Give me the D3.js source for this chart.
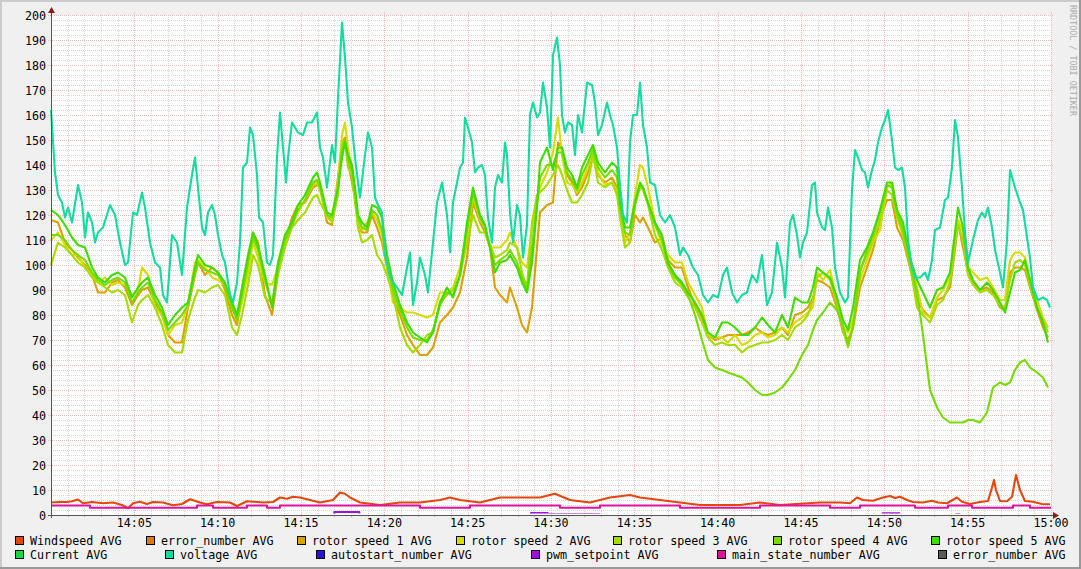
<!DOCTYPE html>
<html><head><meta charset="utf-8">
<script src="https://cdn.jsdelivr.net/npm/d3@7"></script>
<style>body{margin:0;background:#f0f0f0}svg{display:block}text{font-family:"DejaVu Sans Mono",monospace}</style>
</head><body><svg id="c" width="1081" height="569"></svg>
<script>
// ---------- DATA (minutes after 14:00) ----------
const rotorTime = [0,0.42,0.84,1.26,1.62,2.04,2.46,2.82,3.24,3.66,
4.02,4.44,4.86,5.22,5.46,5.82,6.24,6.66,7.02,7.44,
7.86,8.22,8.64,8.82,9.24,9.66,10.02,10.44,10.86,11.16,
11.46,11.82,12.12,12.42,12.84,13.26,13.62,14.04,14.46,14.82,
15.24,15.72,15.96,16.14,16.56,16.86,17.22,17.46,17.64,17.82,
18.06,18.24,18.42,18.66,18.96,19.26,19.56,19.86,20.16,20.52,
20.94,21.36,21.72,22.14,22.56,22.92,23.34,23.76,24.12,24.54,
24.96,25.32,25.74,26.04,26.34,26.64,26.94,27.36,27.54,27.96,
28.26,28.56,28.86,29.16,29.34,29.76,30.12,30.42,30.66,30.96,
31.26,31.56,31.86,32.22,32.52,32.82,33.24,33.66,33.96,34.14,
34.44,34.74,35.04,35.34,35.52,35.82,36.24,36.66,37.02,37.44,
37.86,38.22,38.64,39.06,39.42,39.84,40.26,40.62,41.04,41.46,
41.82,42.24,42.66,43.02,43.44,43.86,44.22,44.64,45.06,45.42,
45.72,45.96,46.32,46.74,47.16,47.52,47.82,48.12,48.54,48.96,
49.32,49.74,50.16,50.46,50.76,51.12,51.54,51.96,52.32,52.74,
53.16,53.52,53.94,54.24,54.42,54.72,55.02,55.32,55.74,56.16,
56.52,56.94,57.24,57.54,57.84,58.14,58.44,58.74,59.16,59.52,
59.82];
const rotor1 = [118,117,109,106,103,100,96,89,89,93,
94,91,84,88,90,91,85,80,72,69,
69,83,96,101,96,99,97,90,80,76,
87,99,113,109,88,80,97,109,119,124,
125,131,132,131,117,116,135,149,151,141,
133,127,117,113,113,120,115,109,99,87,
80,72,68,64,64,67,77,80,83,89,
103,125,117,113,107,91,88,85,91,83,
76,73,83,107,121,124,125,149,147,136,
133,128,131,137,144,136,133,135,131,120,
112,109,120,117,119,115,109,111,102,99,
99,91,84,79,72,70,71,72,72,72,
73,75,73,72,73,75,72,80,81,83,
87,94,93,91,83,73,70,75,91,99,
106,118,126,126,115,110,99,86,82,79,
86,87,91,106,117,107,97,93,90,91,
89,83,82,97,99,99,98,91,82,75,71];
const rotor2 = [110,113,108,104,104,99,96,93,95,92,
93,92,88,90,99,96,83,80,72,76,
77,84,101,102,99,95,94,92,83,78,
85,97,109,103,93,92,99,108,116,121,
126,132,133,130,119,118,133,152,157,147,
137,129,118,114,117,121,118,112,100,85,
83,81,81,80,79,80,89,89,91,99,
113,127,118,115,107,107,107,110,113,107,
101,99,115,125,131,137,145,159,144,133,
132,129,133,139,147,137,132,133,130,124,
109,113,128,140,139,131,117,108,104,101,
101,93,88,83,72,71,71,69,72,68,
69,72,73,71,72,75,73,77,79,81,
83,97,94,98,86,75,73,78,94,102,
109,114,131,133,121,115,103,91,81,79,
87,90,95,110,118,113,99,97,94,95,
91,86,86,102,105,105,103,94,86,79,75];
const rotor3 = [100,109,107,104,101,99,95,93,91,89,
90,88,77,84,86,88,83,76,68,65,
65,78,87,90,89,91,92,88,75,72,
80,92,104,100,87,85,96,107,115,118,
121,127,128,125,120,117,128,148,150,139,
136,125,115,109,110,112,104,101,96,88,
75,68,65,68,72,73,85,88,90,96,
109,120,113,113,108,103,104,106,109,107,
97,91,117,128,129,132,136,140,136,130,
125,125,128,133,144,133,131,133,128,119,
107,109,124,131,130,124,112,106,99,93,
91,87,83,77,71,68,69,68,68,65,
67,68,69,69,70,72,70,75,77,80,
86,95,97,94,85,74,67,76,98,104,
110,118,130,128,119,112,100,83,80,77,
84,86,93,108,116,110,96,92,89,90,
88,84,83,94,101,102,100,92,83,78,73];
const rotor4 = [112,112,110,106,104,102,97,94,92,94,
95,93,85,89,91,93,86,81,74,77,
80,84,97,101,98,97,96,92,83,78,
88,101,111,106,94,84,99,110,116,122,
126,133,134,131,120,119,130,146,150,142,
138,129,119,115,114,122,120,114,102,90,
82,75,71,70,70,74,84,89,88,96,
114,129,119,115,107,100,102,104,106,101,
95,90,107,125,135,140,140,145,145,137,
134,130,136,141,146,139,135,138,135,123,
113,112,124,132,131,125,116,110,100,95,
92,88,80,70,62,59,58,57,56,55,
53,50,48,48,49,51,54,58,64,68,
74,78,81,85,82,76,68,75,97,106,
112,121,132,131,121,114,101,89,72,50,
43,39,37,37,37,37,38,38,37,41,
51,53,52,53,58,61,62,59,57,55,51];
const rotor5 = [122,120,116,111,108,107,99,95,93,96,
97,95,87,91,93,95,88,83,76,80,
83,85,99,104,100,99,97,93,85,80,
91,104,113,108,96,83,101,112,117,124,
128,135,137,133,121,120,131,143,149,144,
140,131,120,117,115,124,123,119,104,93,
84,77,73,71,69,73,85,91,87,96,
117,131,120,116,107,97,101,102,104,99,
93,89,101,123,141,147,138,147,147,139,
136,131,139,144,148,141,137,141,139,125,
115,115,125,133,131,125,117,112,101,96,
93,89,85,80,73,71,77,77,75,72,
72,75,79,76,73,80,75,87,85,85,
91,99,97,95,87,78,74,83,102,107,
113,122,133,133,122,117,103,94,89,83,
90,91,97,113,123,115,99,94,90,93,
90,85,81,89,97,98,102,94,83,77,69];

const voltage = [[0,162],[0.24,137],[0.42,128],[0.66,125],[0.84,119],[1.02,123],[1.26,117],[1.62,132],[1.86,125],[2.04,111],
[2.22,121],[2.46,117],[2.64,109],[2.82,113],[3.12,115],[3.54,124],[3.84,120],[4.14,109],[4.44,100],[4.62,101],
[4.92,121],[5.16,120],[5.46,129],[5.64,123],[5.94,109],[6.24,101],[6.54,99],[6.72,88],[6.96,85],[7.26,112],
[7.56,109],[7.86,96],[8.16,123],[8.46,136],[8.64,143],[8.82,131],[9.06,115],[9.24,112],[9.42,121],[9.66,124],
[9.84,120],[10.02,112],[10.26,104],[10.44,101],[10.74,88],[10.92,85],[11.16,93],[11.34,109],[11.52,139],[11.76,141],
[11.94,155],[12.12,152],[12.36,136],[12.48,119],[12.72,117],[12.96,101],[13.14,100],[13.32,104],[13.56,143],[13.74,161],
[13.92,147],[14.1,133],[14.22,143],[14.46,157],[14.64,155],[14.82,153],[15.12,152],[15.36,157],[15.66,157],[15.96,161],
[16.14,147],[16.32,143],[16.56,131],[16.86,148],[17.04,141],[17.22,167],[17.46,197],[17.64,183],[17.82,165],[18.06,155],
[18.24,143],[18.42,133],[18.54,127],[18.84,144],[19.02,153],[19.26,147],[19.44,127],[19.62,124],[19.86,121],[20.04,104],
[20.34,95],[20.76,91],[21.06,88],[21.36,99],[21.54,105],[21.72,84],[21.96,93],[22.14,103],[22.44,96],[22.62,89],
[22.92,109],[23.16,125],[23.46,133],[23.76,120],[23.94,105],[24.12,125],[24.36,133],[24.54,139],[24.72,141],[24.84,159],
[25.02,155],[25.26,149],[25.44,137],[25.62,139],[25.86,140],[26.04,136],[26.22,119],[26.46,109],[26.64,131],[26.82,136],
[27.06,133],[27.24,149],[27.36,144],[27.54,121],[27.72,109],[27.96,124],[28.14,120],[28.32,103],[28.56,116],[28.74,160],
[28.92,165],[29.16,159],[29.34,161],[29.52,173],[29.76,163],[29.94,147],[30.12,184],[30.36,191],[30.54,180],[30.66,160],
[30.84,153],[31.02,157],[31.26,156],[31.44,144],[31.62,160],[31.86,153],[32.16,173],[32.46,172],[32.64,165],[32.82,152],
[33.06,156],[33.36,165],[33.54,160],[33.72,156],[33.96,147],[34.14,132],[34.32,120],[34.56,117],[34.74,149],[34.92,160],
[35.16,160],[35.34,173],[35.52,156],[35.76,147],[35.94,133],[36.24,132],[36.54,120],[36.84,117],[37.14,120],[37.44,115],
[37.74,104],[37.92,107],[38.22,104],[38.52,99],[38.82,96],[39.12,88],[39.42,85],[39.72,88],[40.02,87],[40.32,96],
[40.56,99],[40.86,89],[41.16,85],[41.46,88],[41.76,89],[42.06,96],[42.36,93],[42.66,104],[42.96,84],[43.26,89],
[43.56,109],[43.86,99],[44.04,87],[44.34,117],[44.52,120],[44.76,112],[44.94,103],[45.12,109],[45.36,113],[45.66,132],
[45.84,133],[45.96,121],[46.26,115],[46.44,114],[46.62,123],[46.86,115],[47.04,99],[47.34,89],[47.64,85],[47.82,87],
[48.06,130],[48.24,146],[48.42,143],[48.66,138],[48.84,137],[49.02,131],[49.26,138],[49.44,142],[49.62,149],[49.86,155],
[50.04,158],[50.22,162],[50.46,150],[50.64,139],[50.82,138],[51.06,139],[51.24,131],[51.42,110],[51.66,99],[51.84,95],
[52.14,95],[52.44,97],[52.62,94],[52.86,102],[53.04,114],[53.34,115],[53.64,126],[53.82,127],[54.06,139],[54.24,158],
[54.42,151],[54.66,131],[54.84,113],[55.02,101],[55.32,110],[55.62,118],[55.86,121],[56.04,119],[56.22,123],[56.46,115],
[56.64,106],[56.94,97],[57.12,91],[57.36,110],[57.54,138],[57.84,131],[58.14,125],[58.32,122],[58.56,111],[58.74,103],
[58.92,91],[59.22,86],[59.52,87],[59.76,86],[59.94,83]];

const windspeed = [[0,5],[0.54,5.2],[0.96,5.2],[1.26,5.5],[1.62,6.2],[1.92,4.7],[2.46,5.2],[3.12,4.7],[3.72,5],[4.26,4],
[4.62,2.7],[4.92,4.7],[5.34,5.3],[5.76,4.4],[6.12,5.2],[6.72,5],[7.32,3.9],[7.86,4.4],[8.34,6.3],[8.94,5],
[9.36,4.3],[9.96,5.2],[10.74,5],[11.16,3.6],[11.76,5.5],[12.72,5],[13.32,5.2],[13.74,7],[14.16,6.5],[14.52,7.3],
[14.94,7],[16.14,5],[16.92,6],[17.34,9],[17.64,8.5],[17.94,7],[18.54,5],[19.74,4],[20.94,5],[22.14,5],
[23.34,6],[23.94,7],[24.54,6],[25.74,5],[26.94,7],[28.14,7],[29.34,7],[30.24,8.5],[31.14,6],[32.34,5],
[33.54,7],[34.74,8],[35.34,7],[36.54,6],[37.74,5],[38.94,4],[40.14,4],[41.34,4],[42.54,5],[43.74,4],
[44.94,4.5],[46.14,5],[47.34,5],[47.94,4.7],[48.36,7],[48.72,6],[49.32,5.7],[49.92,7],[50.34,7.6],[50.64,6.8],
[50.94,7.3],[51.36,6],[51.72,5.2],[52.32,5],[52.86,5.7],[53.22,5],[53.76,4.7],[54.36,7],[54.66,5.3],[55.14,4.4],
[55.74,5.2],[56.22,5.6],[56.46,11],[56.58,14],[56.7,10],[56.94,5.6],[57.36,5.5],[57.66,7.3],[57.9,16],[58.14,10],
[58.44,5.6],[58.92,5.3],[59.46,4.4],[59.94,4.3]];

const mainState = [[0,3.8],[2.34,2.9],[8.76,3.8],[9.72,2.9],[11.76,3.8],[12.96,2.9],[13.74,3.8],[22.14,2.9],[25.14,3.8],[30.54,2.9],
[32.94,3.8],[37.74,2.9],[42.54,3.8],[46.74,2.9],[48.54,3.8],[51.84,2.9],[53.82,3.8],[55.26,2.9],[57.72,3.8],[58.74,2.9],[60,2.9]];

const pwmSetpoint = [[0,0],[17.0,1.2],[18.5,0],[28.8,0.8],[29.8,0.4],[32.9,0],[49.9,0.7],[50.9,0],[54.3,0.4],[54.5,0],[60,0]];

const yTickValues = d3.range(0, 201, 10);
const xTickMinutes = [5,10,15,20,25,30,35,40,45,50,55,60];
const xTickLabels = ["14:05","14:10","14:15","14:20","14:25","14:30","14:35","14:40","14:45","14:50","14:55","15:00"];

const legendNames = ["Windspeed AVG","error_number AVG","rotor speed 1 AVG","rotor speed 2 AVG","rotor speed 3 AVG","rotor speed 4 AVG","rotor speed 5 AVG",
  "Current AVG","voltage AVG","autostart_number AVG","pwm_setpoint AVG","main_state_number AVG","error_number AVG"];
const legendColors = ["#e4460c","#e07a10","#dca000","#d6dc00","#a6dc00","#76dc00","#40dc00",
  "#10dc40","#14dca0","#2a10dc","#a010dc","#e010a0","#5a5a5a"];

// ---------- DRAW ----------
const svg = d3.select("#c");
const W = 1081, H = 569;
const x = d3.scaleLinear().domain([0, 60]).range([51, 1051]);
const y = d3.scaleLinear().domain([0, 200]).range([515, 15]);

svg.append("rect").attr("width", W).attr("height", H).attr("fill", "#f0f0f0");
svg.append("rect").attr("x",0).attr("y",0).attr("width",W).attr("height",2).attr("fill","#cbcbcb");
svg.append("rect").attr("x",0).attr("y",0).attr("width",2).attr("height",H).attr("fill","#cbcbcb");
svg.append("rect").attr("x",0).attr("y",H-2).attr("width",W).attr("height",2).attr("fill","#999");
svg.append("rect").attr("x",W-2).attr("y",0).attr("width",2).attr("height",H).attr("fill","#999");

svg.append("rect").attr("x", 51).attr("y", 15).attr("width", 1000).attr("height", 500).attr("fill", "#fff");

const grid = svg.append("g").attr("shape-rendering", "crispEdges");
d3.range(0, 201, 2).filter(v => v % 10 !== 0).forEach(v => {
  grid.append("line").attr("x1", 51).attr("x2", 1051).attr("y1", Math.round(y(v)) + 0.5).attr("y2", Math.round(y(v)) + 0.5)
    .attr("stroke", "#d6d6d6").attr("stroke-dasharray", "1,1");
});
d3.range(1, 60).filter(m => m % 5 !== 0).forEach(m => {
  const px = Math.round(x(m)) + 0.5;
  grid.append("line").attr("x1", px).attr("x2", px).attr("y1", 15).attr("y2", 515)
    .attr("stroke", "#d6d6d6").attr("stroke-dasharray", "1,1");
  grid.append("line").attr("x1", px).attr("x2", px).attr("y1", 515).attr("y2", 517).attr("stroke", "#b0b0b0");
});
yTickValues.forEach(v => {
  const py = Math.round(y(v)) + 0.5;
  grid.append("line").attr("x1", 48).attr("x2", 1054).attr("y1", py).attr("y2", py)
    .attr("stroke", "#efb9b9").attr("stroke-dasharray", "1,1");
});
xTickMinutes.forEach(m => {
  const px = Math.round(x(m)) + 0.5;
  grid.append("line").attr("x1", px).attr("x2", px).attr("y1", 12).attr("y2", 518)
    .attr("stroke", "#efb9b9").attr("stroke-dasharray", "1,1");
});

const line = d3.line().x(d => x(d[0])).y(d => y(d[1]));
const stepLine = d3.line().x(d => x(d[0])).y(d => y(d[1])).curve(d3.curveStepAfter);
const zipRotor = arr => rotorTime.map((t, i) => [t, arr[i]]);

svg.append("clipPath").attr("id", "aboveAxis").append("rect").attr("x", 0).attr("y", 0).attr("width", W).attr("height", 513.6);

const plot = svg.append("g").attr("fill", "none").attr("stroke-width", 2.1).attr("stroke-linejoin", "round");
plot.append("path").attr("d", line(windspeed)).attr("stroke", legendColors[0]);
[rotor1, rotor2, rotor3, rotor4, rotor5].forEach((arr, i) => {
  plot.append("path").attr("d", line(zipRotor(arr))).attr("stroke", legendColors[2 + i]);
});
plot.append("path").attr("d", line(voltage)).attr("stroke", legendColors[8]);
plot.append("path").attr("d", stepLine(pwmSetpoint)).attr("stroke", legendColors[10]).attr("clip-path", "url(#aboveAxis)");
plot.append("path").attr("d", stepLine(mainState)).attr("stroke", legendColors[11]);

const ax = svg.append("g").attr("shape-rendering", "crispEdges");
ax.append("line").attr("x1", 51.5).attr("x2", 51.5).attr("y1", 12).attr("y2", 518).attr("stroke", "#555");
ax.append("line").attr("x1", 48).attr("x2", 1054).attr("y1", 515.5).attr("y2", 515.5).attr("stroke", "#555");
svg.append("path").attr("d", "M48,13 L55,13 L51.5,7 Z").attr("fill", "#8a1c1c");
svg.append("path").attr("d", "M1053,512 L1053,519 L1059,515.5 Z").attr("fill", "#8a1c1c");

svg.append("g").selectAll("text").data(yTickValues).join("text")
  .attr("x", 46).attr("y", d => y(d) + 4.5).attr("text-anchor", "end")
  .attr("font-size", "11.7px").attr("fill", "#000").text(d => d);
svg.append("g").selectAll("text").data(xTickMinutes).join("text")
  .attr("x", d => x(d)).attr("y", 527).attr("text-anchor", "middle")
  .attr("font-size", "11.7px").attr("fill", "#000").text((d, i) => xTickLabels[i]);

svg.append("text").attr("transform", "translate(1070,5) rotate(90)")
  .attr("font-size", "8.4px").attr("fill", "#ababab").text("RRDTOOL / TOBI OETIKER");

const legendX = [16, 147, 298, 457, 614, 774, 932, 16, 166, 317, 532, 718, 939];
const legendRow = [0,0,0,0,0,0,0,1,1,1,1,1,1];
const lg = svg.append("g");
legendNames.forEach((name, i) => {
  const ry = legendRow[i] === 0 ? 537 : 551;
  lg.append("rect").attr("x", legendX[i] - 0.5).attr("y", ry - 0.5).attr("width", 8).attr("height", 8)
    .attr("fill", legendColors[i]).attr("stroke", "#000").attr("stroke-width", 1).attr("shape-rendering", "crispEdges");
  lg.append("text").attr("x", legendX[i] + 14).attr("y", ry + 7.5).attr("font-size", "11.7px").attr("fill", "#000").text(name);
});
</script></body></html>
